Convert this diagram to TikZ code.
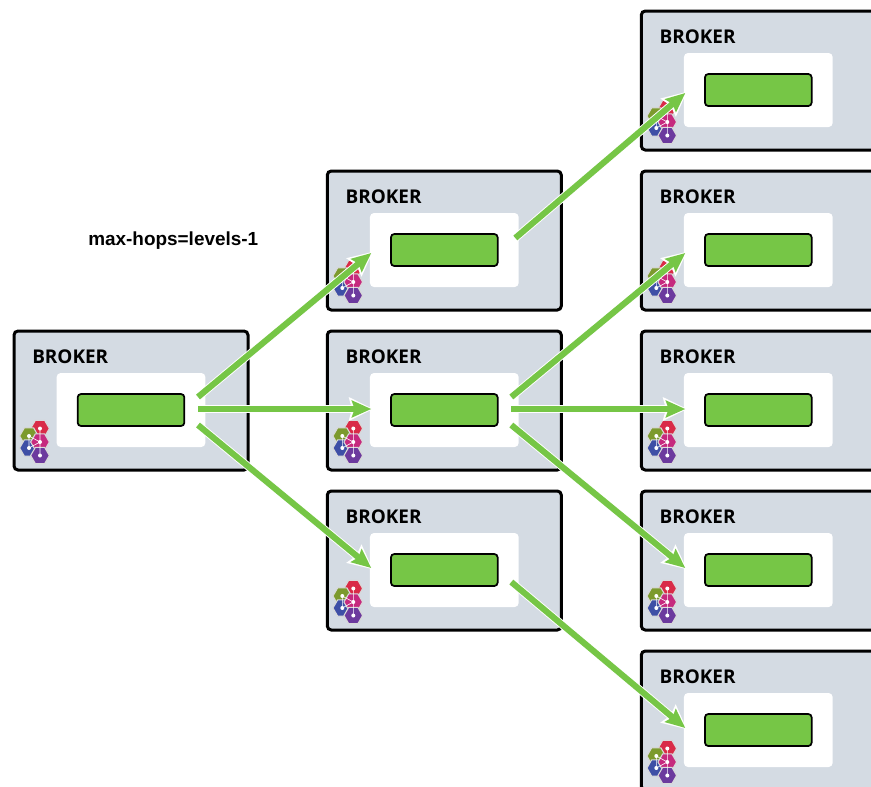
\documentclass[tikz,border=0pt]{standalone}
\usepackage{fontspec}
\setmainfont{Liberation Sans}
\newfontfamily\brokerfont{Open Sans}
\usetikzlibrary{arrows.meta,shapes.geometric,calc}
\definecolor{panel}{HTML}{D4DBE3}
\definecolor{qgreen}{HTML}{76C646}
\definecolor{hexred}{HTML}{D92B47}
\definecolor{hexolive}{HTML}{7C9A2D}
\definecolor{hexpink}{HTML}{C62A7E}
\definecolor{hexblue}{HTML}{3E4FA6}
\definecolor{hexpurple}{HTML}{6C3A9E}
\tikzset{
  panelbox/.style={draw=black,fill=panel,line width=2.25pt,rounded corners=3pt,minimum width=175.5pt,minimum height=104.25pt,inner sep=0pt,outer sep=0pt},
  whitebox/.style={fill=white,rounded corners=3pt,minimum width=111.5pt,minimum height=55.5pt,inner sep=0pt},
  queuebox/.style={draw=black,fill=qgreen,line width=1.3pt,rounded corners=2.5pt,minimum width=80pt,minimum height=24pt,inner sep=0pt},
  brokerlabel/.style={font=\brokerfont\bfseries\fontsize{14.2}{15}\selectfont,anchor=west,inner sep=0pt,text=black},
  hexcell/.style={regular polygon,regular polygon sides=6,minimum size=14pt,inner sep=0pt,draw=white!85!black,line width=0.8pt,fill=#1},
  hexdot/.style={circle,fill=white,minimum size=3pt,inner sep=0pt},
  halo/.style={line width=6pt,draw=white,-{Stealth[length=18pt,width=17pt,inset=2pt]},shorten >=-1.5pt,shorten <=-0.8pt},
  flow/.style={line width=4.6pt,draw=qgreen,-{Stealth[length=14.5pt,width=12.5pt,inset=2pt]}}
}
% #1 name, #2 x, #3 y of the panel's top-left corner in reference pixels
\newcommand{\brokerpanel}[3]{%
  \node[panelbox,anchor=north west] (#1) at (#2,#3) {};
  \node[whitebox] (#1w) at ($(#2,#3)+(117,79)$) {};
  \node[queuebox] (#1q) at ($(#2,#3)+(117,79)$) {};
  \node[brokerlabel] (#1t) at ($(#2,#3)+(18,25.4)$) {BROKER};
  \begin{scope}[shift={(#2,#3)}]
    \node[hexcell=hexred]    (#1h1) at (26,97.5)  {};
    \node[hexcell=hexolive]  (#1h2) at (15,105) {};
    \node[hexcell=hexblue]   (#1h4) at (15,117) {};
    \node[hexcell=hexpink]   (#1h3) at (26,111) {};
    \node[hexcell=hexpurple] (#1h5) at (26,124.5) {};
    \draw[white,line width=.45pt] (#1h1.center)--(#1h3.center)--(#1h5.center) (#1h2.center)--(#1h3.center) (#1h4.center)--(#1h3.center) (#1h2.center)--(#1h4.center);
    \foreach \k in {1,...,5}{\node[hexdot] at (#1h\k.center) {};}
  \end{scope}
  \coordinate (#1ou) at ($(#1q)+(67,-13)$);
  \coordinate (#1om) at ($(#1q)+(67,-1)$);
  \coordinate (#1od) at ($(#1q)+(67,15)$);
  \coordinate (#1iu) at ($(#1q)+(-73,3)$);
  \coordinate (#1im) at ($(#1q)+(-73,-1)$);
  \coordinate (#1id) at ($(#1q)+(-73,-2)$);
}
\newcommand{\flowline}[2]{%
  \draw[halo] (#1) -- (#2);
  \draw[flow] (#1) -- (#2);
}
\begin{document}
\begin{tikzpicture}[x=0.75pt,y=-0.75pt]
  \useasboundingbox (0,0) rectangle (871,786);
  \clip (0,0) rectangle (871,786);
  \brokerpanel{a}{14}{331}
  \brokerpanel{b}{327.3}{171}
  \brokerpanel{c}{327.3}{331}
  \brokerpanel{d}{327.3}{491}
  \brokerpanel{e}{641.3}{11}
  \brokerpanel{f}{641.3}{171}
  \brokerpanel{g}{641.3}{331}
  \brokerpanel{h}{641.3}{491}
  \brokerpanel{i}{641.3}{651}
  \node[anchor=west,inner sep=0pt,font=\bfseries\fontsize{14.2}{16}\selectfont] (cap) at (88,241) {max-hops=levels-1};
  \coordinate (bx) at ($(bq)+(71,-12)$);
  \coordinate (dx) at ($(dq)+(67,12)$);
  \flowline{aou}{biu}
  \flowline{aom}{cim}
  \flowline{aod}{did}
  \flowline{bx}{eiu}
  \flowline{cou}{fiu}
  \flowline{com}{gim}
  \flowline{cod}{hid}
  \flowline{dx}{iid}
\end{tikzpicture}
\end{document}
